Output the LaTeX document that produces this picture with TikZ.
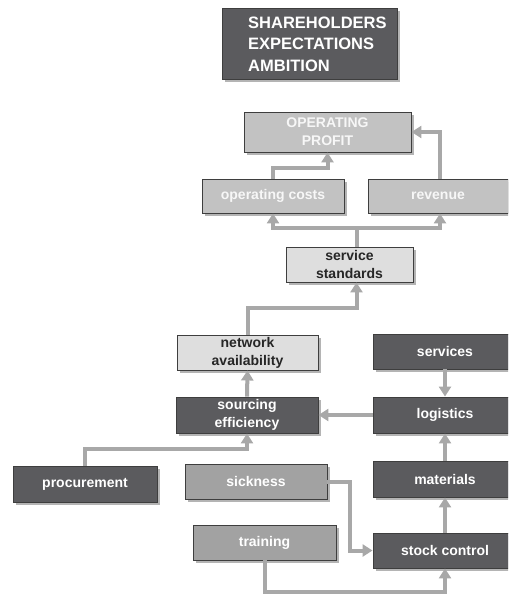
\documentclass[tikz,border=0pt]{standalone}
\usepackage{fontspec}
\setmainfont{Liberation Sans}
\usetikzlibrary{arrows.meta,shadows,calc}

\definecolor{boxdark}{HTML}{5B5B5E}
\definecolor{boxmid}{HTML}{A2A2A2}
\definecolor{boxsoft}{HTML}{C2C2C2}
\definecolor{boxlight}{HTML}{DEDEDE}
\definecolor{edgegray}{HTML}{3E3E3E}
\definecolor{shadegray}{HTML}{B4B4B4}
\definecolor{linkgray}{HTML}{A8A8A8}
\definecolor{inkdark}{HTML}{262626}

\tikzset{
  basebox/.style={rectangle, draw=edgegray, line width=0.9pt, inner sep=0pt,
    align=center, font=\bfseries\fontsize{14}{18}\selectfont,
    drop shadow={shadow xshift=3pt, shadow yshift=-3pt, fill=shadegray, opacity=1}},
  darkbox/.style={basebox, fill=boxdark, text=white},
  midbox/.style={basebox, fill=boxmid, text=white},
  softbox/.style={basebox, fill=boxsoft, text=white!97!black},
  lightbox/.style={basebox, fill=boxlight, text=inkdark},
  conn/.style={draw=linkgray, line width=4pt, line join=miter,
    -{Triangle[width=12pt,length=10pt]}},
  plain/.style={draw=linkgray, line width=4pt, line join=miter}
}

\begin{document}
\begin{tikzpicture}[x=1pt, y=-1pt]
\useasboundingbox (0,0) rectangle (508,596);
\path[clip] (0,0) rectangle (508,596);

% top banner
\node[darkbox, minimum width=175, minimum height=71] (share) at (309.5,43.5) {};
\node[anchor=west, align=left, text=white, inner sep=0pt,
      font=\bfseries\fontsize{16.5}{21.5}\selectfont] (sharetext) at (248,44)
      {SHAREHOLDERS\\EXPECTATIONS\\AMBITION};

% profit tree
\node[softbox, minimum width=167, minimum height=40] (profit) at (327.5,132) {OPERATING\\PROFIT};
\node[softbox, minimum width=142, minimum height=34] (opcosts) at (273,196) {operating costs};
\node[softbox, minimum width=140, minimum height=34] (revenue) at (438,196) {revenue};
\node[lightbox, minimum width=127, minimum height=35] (servstd) at (349.5,264.5) {service\\standards};
\node[lightbox, minimum width=141, minimum height=35] (netavail) at (247.5,352.5) {network\\availability};

% operational drivers
\node[darkbox, minimum width=142, minimum height=36] (srceff) at (247,415) {sourcing\\efficiency};
\node[darkbox, minimum width=144, minimum height=35] (services) at (445,351.5) {services};
\node[darkbox, minimum width=144, minimum height=36] (logistics) at (445,415) {logistics};
\node[darkbox, minimum width=144, minimum height=36] (procure) at (85,484) {procurement};
\node[midbox, minimum width=142, minimum height=35] (sickness) at (256,481.5) {sickness};
\node[darkbox, minimum width=144, minimum height=36] (materials) at (445,479) {materials};
\node[midbox, minimum width=143, minimum height=35] (training) at (264.5,542.5) {training};
\node[darkbox, minimum width=144, minimum height=35] (stock) at (445,550.5) {stock control};

% links into operating profit
\draw[conn] (opcosts.north) -- ++(0,-11) -| (profit.south);
\draw[conn] ($(revenue.north)+(2,0)$) |- (profit.east);

% service standards feed both costs and revenue
\draw[plain] ($(servstd.north)+(7,0)$) -- ++(0,-19) coordinate (fork);
\draw[conn] (fork) -| (opcosts.south);
\draw[conn] (fork) -| ($(revenue.south)+(2,0)$);

% availability chain
\draw[conn] (netavail.north) -- ++(0,-27) -| ($(servstd.south)+(7,0)$);
\draw[conn] (srceff.north) -- (netavail.south);
\draw[conn] (logistics.west) -- (srceff.east);
\draw[conn] (services.south) -- (logistics.north);
\draw[conn] (procure.north) -- ++(0,-17) -| (srceff.south);
\draw[conn] (materials.north) -- (logistics.south);
\draw[conn] (stock.north) -- (materials.south);
\draw[conn] (sickness.east) -- ++(23,0) |- (stock.west);
\draw[conn] (training.south) -- ++(0,32) -| (stock.south);
\end{tikzpicture}
\end{document}
